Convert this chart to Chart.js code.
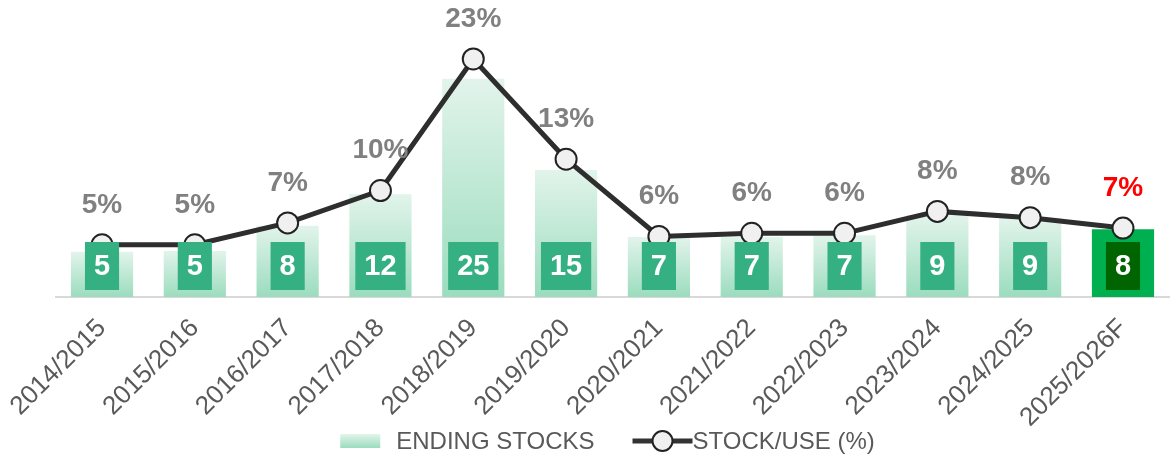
<!DOCTYPE html>
<html><head><meta charset="utf-8">
<script src="https://cdn.jsdelivr.net/npm/chart.js@4"></script>
<style>html,body{margin:0;padding:0;background:#fff;overflow:hidden}</style>
</head><body>
<canvas id="c" width="1173" height="459"></canvas>
<script>
const categories = ['2014/2015','2015/2016','2016/2017','2017/2018','2018/2019','2019/2020','2020/2021','2021/2022','2022/2023','2023/2024','2024/2025','2025/2026F'];
const endingStocks = [5.2, 5.3, 8.2, 11.8, 25.1, 14.6, 6.9, 6.9, 7.1, 9.4, 9.1, 7.8];
const stockUse = [5.0, 5.0, 7.1, 10.2, 22.8, 13.2, 5.8, 6.1, 6.1, 8.2, 7.6, 6.6];
const seriesNames = ['ENDING STOCKS', 'STOCK/USE (%)'];
const forecastIndex = 11;

const FONT = "'Liberation Sans', Arial, sans-serif";
const GRAD_TOP = 'rgb(226,244,235)';
const GRAD_BOT = 'rgb(155,220,190)';

function barColor(ctx) {
  if (ctx.dataIndex === forecastIndex) return '#00B050';
  const chart = ctx.chart;
  const ys = chart.scales.y;
  if (!ys || !chart.chartArea) return GRAD_BOT;
  const top = ys.getPixelForValue(ctx.raw);
  const bot = ys.getPixelForValue(0);
  const g = chart.ctx.createLinearGradient(0, top, 0, bot);
  g.addColorStop(0, GRAD_TOP);
  g.addColorStop(1, GRAD_BOT);
  return g;
}

const labelPlugin = {
  id: 'labels',
  afterDatasetsDraw(chart) {
    const ctx = chart.ctx;
    const barMeta = chart.getDatasetMeta(1);
    const lineMeta = chart.getDatasetMeta(0);
    const bottom = chart.scales.y.getPixelForValue(0);
    ctx.save();
    ctx.font = "bold 29px " + FONT;
    ctx.textAlign = 'center';
    ctx.textBaseline = 'middle';
    barMeta.data.forEach((bar, i) => {
      const txt = String(Math.round(endingStocks[i]));
      const w = ctx.measureText(txt).width + 18;
      const h = 48;
      const cy = bottom - 31;
      ctx.fillStyle = i === forecastIndex ? '#006400' : '#34B083';
      ctx.fillRect(bar.x - w / 2, cy - h / 2, w, h);
      ctx.fillStyle = '#FFFFFF';
      ctx.fillText(txt, bar.x, cy + 1);
    });
    ctx.font = "bold 28px " + FONT;
    lineMeta.data.forEach((pt, i) => {
      const txt = Math.round(stockUse[i]) + '%';
      ctx.fillStyle = i === forecastIndex ? '#FF0000' : '#808080';
      ctx.fillText(txt, pt.x, pt.y - 40);
    });
    ctx.restore();
  }
};

const legendPlugin = {
  id: 'customLegend',
  afterDraw(chart) {
    const ctx = chart.ctx;
    ctx.save();
    ctx.font = "24px " + FONT;
    ctx.textBaseline = 'middle';
    ctx.textAlign = 'left';
    const t1 = ctx.measureText(seriesNames[0]).width;
    const t2 = ctx.measureText(seriesNames[1]).width;
    const total = 40 + 16 + t1 + 38 + 60 + t2;
    const ca = chart.chartArea;
    let x = (ca.left + ca.right) / 2 - total / 2 - 5;
    const cy = 441;
    const g = ctx.createLinearGradient(0, cy - 7, 0, cy + 7);
    g.addColorStop(0, GRAD_TOP);
    g.addColorStop(1, GRAD_BOT);
    ctx.fillStyle = g;
    ctx.fillRect(x, cy - 7, 40, 14);
    x += 40 + 16;
    ctx.fillStyle = '#595959';
    ctx.fillText(seriesNames[0], x, cy + 1);
    x += t1 + 38;
    ctx.strokeStyle = '#333333';
    ctx.lineWidth = 5;
    ctx.beginPath();
    ctx.moveTo(x, cy);
    ctx.lineTo(x + 60, cy);
    ctx.stroke();
    ctx.beginPath();
    ctx.arc(x + 30, cy, 10, 0, Math.PI * 2);
    ctx.fillStyle = '#F0F0F0';
    ctx.fill();
    ctx.lineWidth = 2;
    ctx.strokeStyle = '#222222';
    ctx.stroke();
    x += 60;
    ctx.fillStyle = '#595959';
    ctx.fillText(seriesNames[1], x, cy + 1);
    ctx.restore();
  }
};

new Chart(document.getElementById('c'), {
  data: {
    labels: categories,
    datasets: [
      {
        type: 'line',
        label: seriesNames[1],
        data: stockUse,
        yAxisID: 'y2',
        order: 0,
        borderColor: '#2E2E2E',
        borderWidth: 5,
        pointRadius: 10.5,
        pointHoverRadius: 10.5,
        pointBackgroundColor: '#F0F0F0',
        pointBorderColor: '#222222',
        pointBorderWidth: 2,
        tension: 0
      },
      {
        type: 'bar',
        label: seriesNames[0],
        data: endingStocks,
        yAxisID: 'y',
        order: 1,
        backgroundColor: barColor,
        categoryPercentage: 1,
        barPercentage: 0.67
      }
    ]
  },
  options: {
    responsive: false,
    animation: false,
    devicePixelRatio: 1,
    layout: { autoPadding: false, padding: { top: 36, left: 55.6, right: 3.6, bottom: 27 } },
    plugins: {
      legend: { display: false },
      tooltip: { enabled: false },
      title: { display: false }
    },
    scales: {
      x: {
        grid: { display: false, drawTicks: false },
        border: { color: '#D9D9D9', width: 2 },
        ticks: {
          color: '#595959',
          font: { family: FONT, size: 26 },
          minRotation: 45,
          maxRotation: 45,
          padding: 16,
          autoSkip: false
        },
        afterFit(scale) {
          scale.paddingLeft = 0;
          scale.paddingRight = 0;
          scale.height = 135;
        }
      },
      y: { display: false, min: 0, max: 30 },
      y2: { display: false, min: 0, max: 25, position: 'right' }
    }
  },
  plugins: [labelPlugin, legendPlugin]
});
</script>
</body></html>
